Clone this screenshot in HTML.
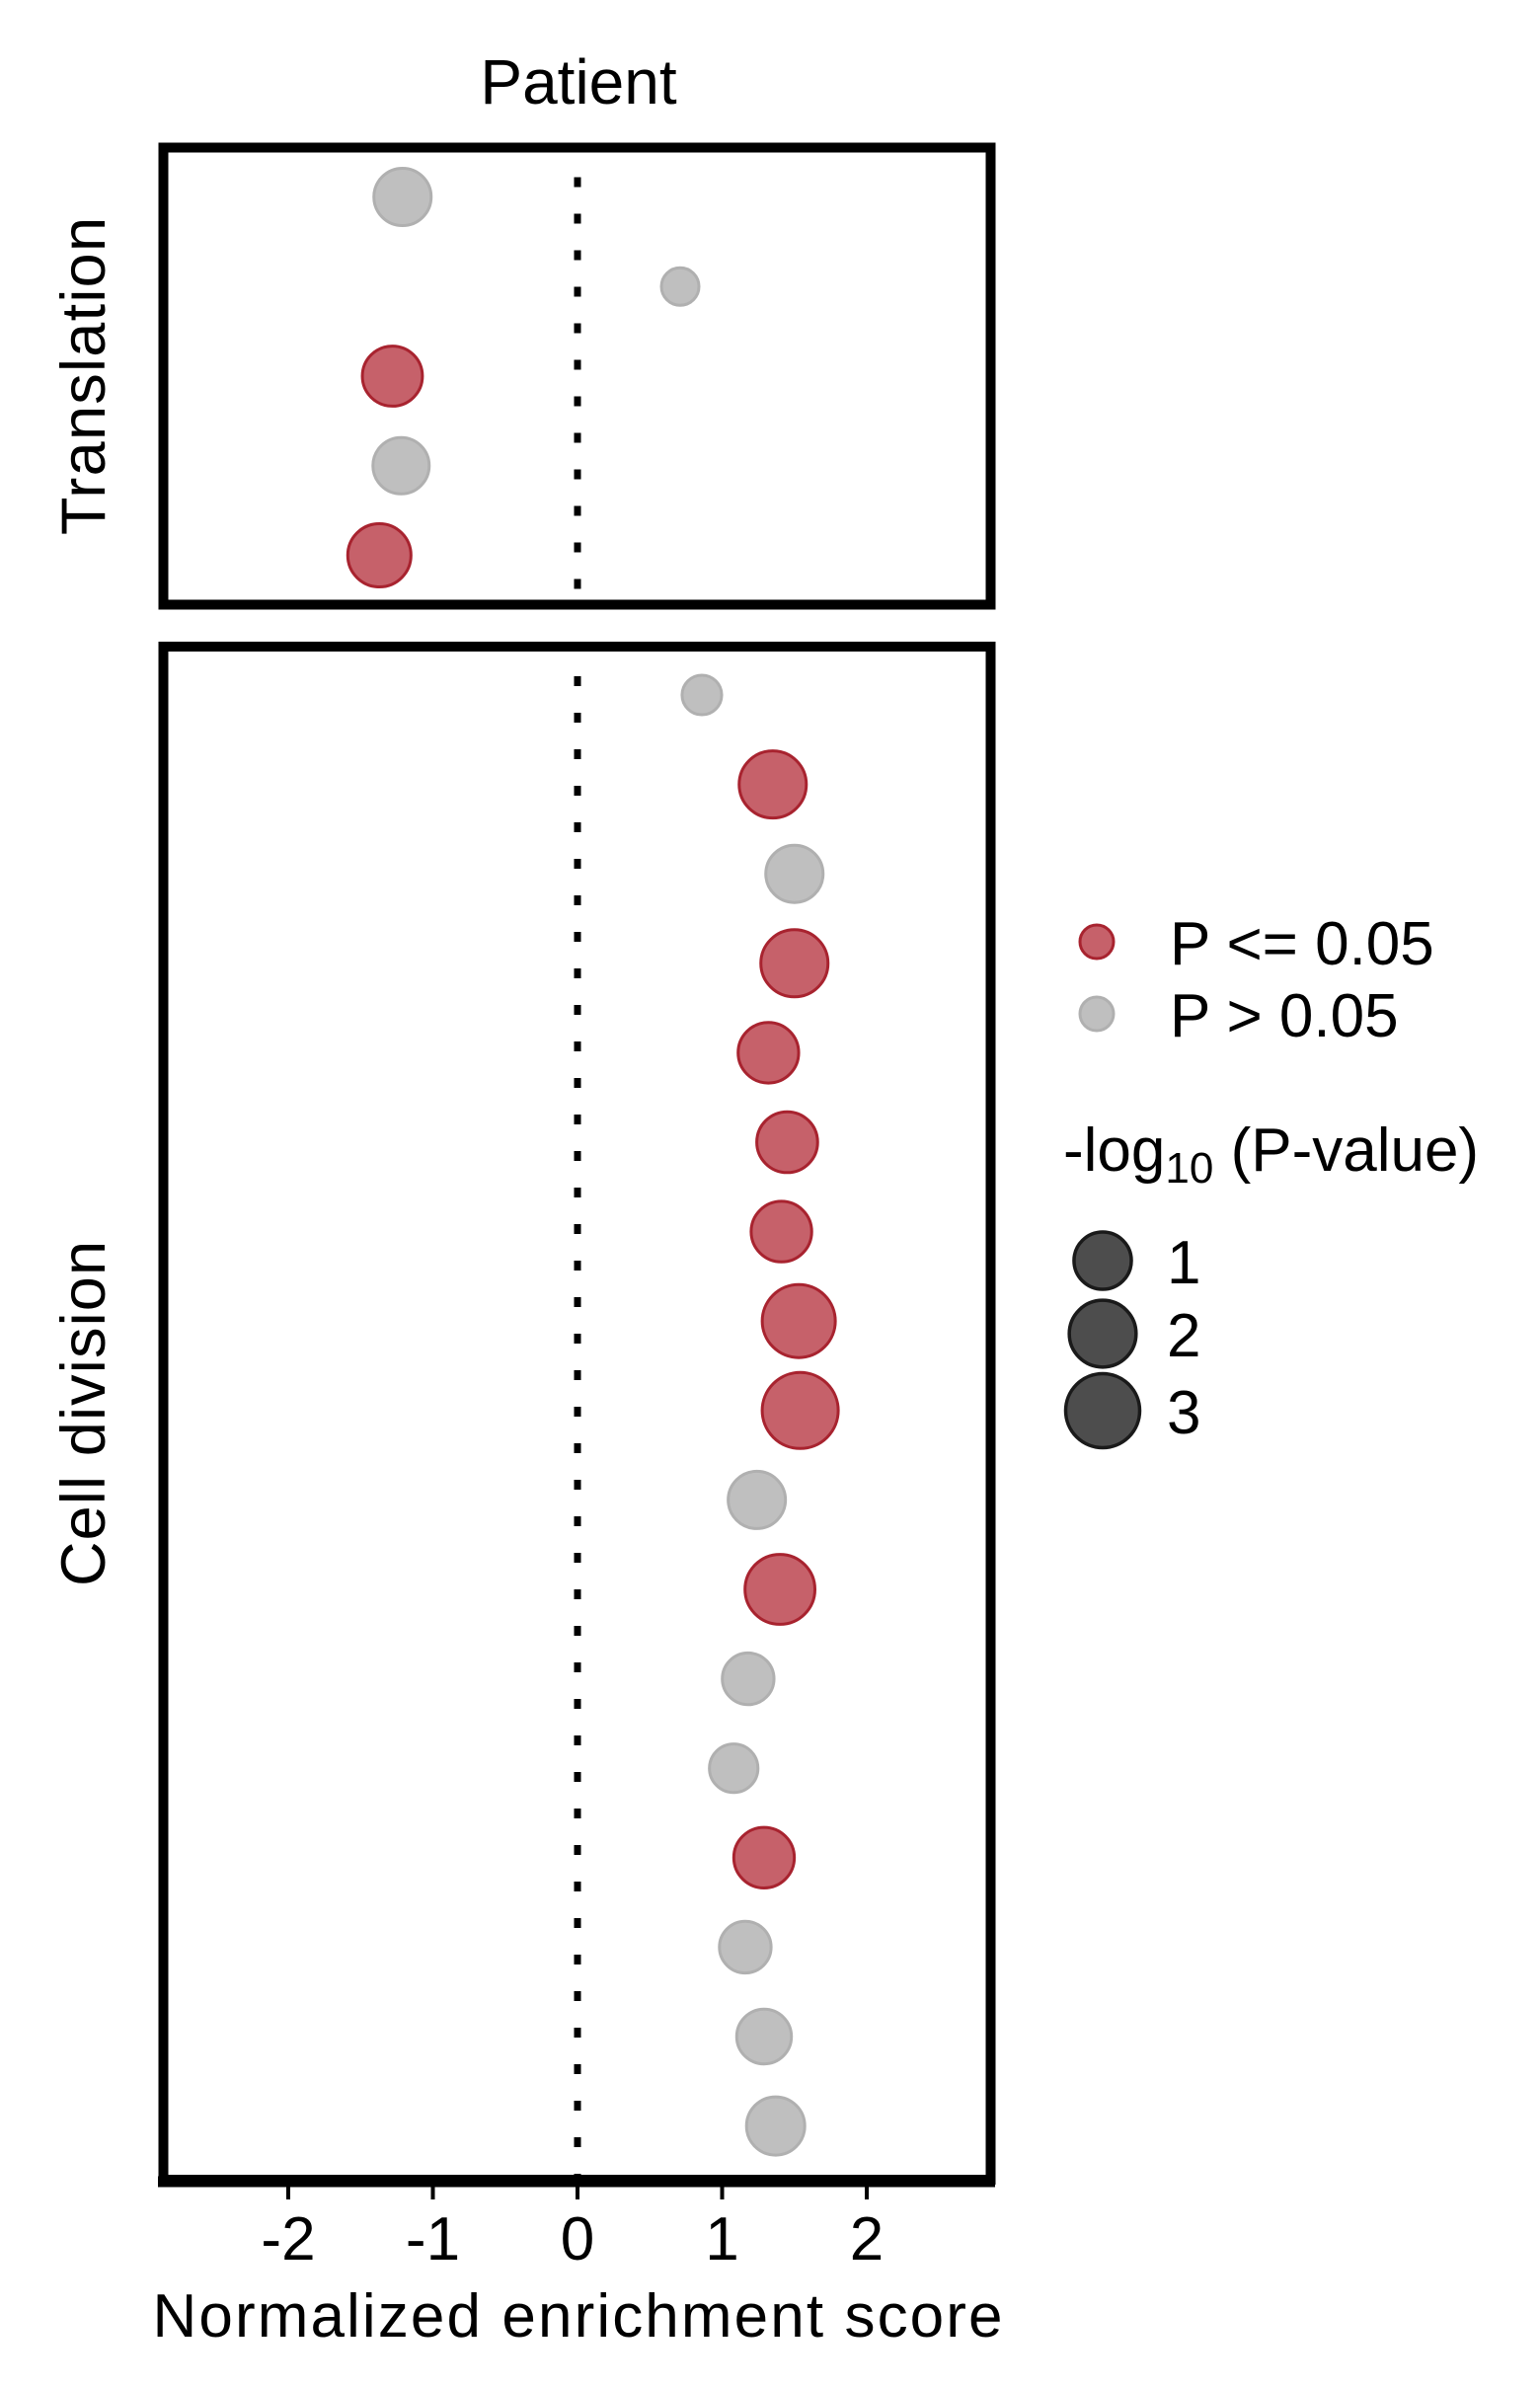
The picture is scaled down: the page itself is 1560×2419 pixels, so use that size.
<!DOCTYPE html>
<html><head><meta charset="utf-8"><style>
html,body{margin:0;padding:0;background:#fff}
svg{display:block}
text{font-family:"Liberation Sans",Arial,sans-serif;fill:#000}
</style></head><body>
<svg id="chart" width="1560" height="2419" viewBox="0 0 1560 2419" xmlns="http://www.w3.org/2000/svg">
<text x="586" y="105" font-size="64" text-anchor="middle">Patient</text>
<g id="panels"></g>
<text transform="translate(106,381) rotate(-90)" font-size="63" text-anchor="middle" textLength="322">Translation</text>
<text transform="translate(106,1432) rotate(-90)" font-size="63" text-anchor="middle" textLength="350">Cell division</text>
<g id="xaxis"></g>
<text x="585" y="2367" font-size="62" text-anchor="middle" textLength="861">Normalized enrichment score</text>
<g id="legend"></g>
</svg>
<script>
// ---- data ----
const translationNES = [-1.21, 0.71, -1.28, -1.22, -1.37];
const translationLogP = [1.08, 0.03, 1.35, 0.99, 1.69];
const translationSig = [false, false, true, false, true];
const divisionNES = [0.86, 1.35, 1.50, 1.50, 1.32, 1.45, 1.41, 1.53, 1.54, 1.24, 1.40, 1.18, 1.08, 1.29, 1.16, 1.29, 1.37];
const divisionLogP = [0.07, 2.17, 1.08, 2.17, 1.40, 1.43, 1.40, 3.00, 3.47, 1.08, 2.54, 0.63, 0.43, 1.40, 0.63, 0.86, 1.17];
const divisionSig = [false, true, false, true, true, true, true, true, true, false, true, false, false, true, false, false, false];
const xTicks = [-2, -1, 0, 1, 2];
const sizeBreaks = [1, 2, 3];
const colorLabels = ["P <= 0.05", "P > 0.05"];

const NS = "http://www.w3.org/2000/svg";
function mk(tag, attrs, parent){const e=document.createElementNS(NS,tag);for(const k in attrs)e.setAttribute(k,attrs[k]);parent.appendChild(e);return e;}
const X0 = 585, XU = 146.5;
function xScale(v){return X0 + v*XU;}
function rScale(v){return 17 + 20*Math.sqrt(Math.max(v,0)/3);}
const RED_F="rgba(176,36,48,0.72)", RED_S="#a8232f", GR_F="rgba(180,180,180,0.85)", GR_S="#b0b0b0";

const panels = document.getElementById('panels');
function drawPanel(name, top, bottom, firstY, step, nes, lp, sig){
  const g = mk('g',{},panels);
  
  
  const ref = mk('line',{x1:X0,x2:X0,y1:top+30,y2:bottom-5,stroke:'#000','stroke-width':7,'stroke-dasharray':'10 27'},g);
  
  
  for(let i=0;i<nes.length;i++){
    const c = mk('circle',{cx:xScale(nes[i]),cy:firstY+i*step,r:rScale(lp[i]),fill:sig[i]?RED_F:GR_F,stroke:sig[i]?RED_S:GR_S,'stroke-width':3},g);
    
    
  }
  const b = mk('rect',{x:165.5,y:top,width:838,height:bottom-top,fill:'none',stroke:'#000','stroke-width':10},g);
  
  
}
drawPanel('translation',149.5,612.5,199.5,90.75,translationNES,translationLogP,translationSig);
drawPanel('cell-division',655,2208,704,90.6,divisionNES,divisionLogP,divisionSig);

const xa = document.getElementById('xaxis');
const axl = mk('line',{x1:160,x2:1008,y1:2210,y2:2210,stroke:'#000','stroke-width':11},xa);


xTicks.forEach(t=>{
  const l = mk('line',{x1:xScale(t),x2:xScale(t),y1:2212,y2:2228,stroke:'#000','stroke-width':4},xa);
  
  
  const tx = mk('text',{x:xScale(t),y:2289,'font-size':62,'text-anchor':'middle'},xa);
  tx.textContent = String(t);
  
  
});

const lg = document.getElementById('legend');
colorLabels.forEach((lab,i)=>{
  const c = mk('circle',{cx:1111,cy:954+i*73,r:17,fill:i===0?RED_F:GR_F,stroke:i===0?RED_S:GR_S,'stroke-width':3},lg);
  
  
  const t = mk('text',{x:1185,y:977+i*73,'font-size':62},lg);
  t.textContent = lab;
  
  
});
const st = mk('text',{x:1077,y:1186,'font-size':62},lg);


st.innerHTML = '-log<tspan font-size="44" dy="12">10</tspan><tspan dy="-12"> (P-value)</tspan>';
const sizeY = [1277,1351,1429];
sizeBreaks.forEach((b,i)=>{
  const c = mk('circle',{cx:1117,cy:sizeY[i],r:rScale(b)+0.5,fill:'#4d4d4d',stroke:'#1a1a1a','stroke-width':3.5},lg);
  
  
  const t = mk('text',{x:1182,y:sizeY[i]+23,'font-size':62},lg);
  t.textContent = String(b);
  
  
});
</script>
</body></html>
